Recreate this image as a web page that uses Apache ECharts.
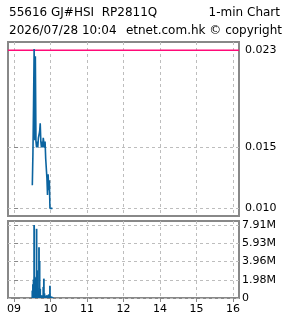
<!DOCTYPE html>
<html><head><meta charset="utf-8">
<script src="https://cdn.jsdelivr.net/npm/echarts@6/dist/echarts.min.js"></script>
<style>html,body{margin:0;padding:0;background:#fff}#c{width:285px;height:318px}</style>
</head><body><div id="c"></div>
<script>
// ---- data ----
var times = ['09:30','09:31','09:32','09:33','09:34','09:35','09:36','09:37','09:38','09:39',
             '09:40','09:41','09:42','09:43','09:44','09:45','09:46','09:47','09:48','09:49',
             '09:50','09:51','09:52','09:53','09:54','09:55','09:56','09:57','09:58','09:59',
             '10:00','10:01','10:02','10:03','10:04'];
var prices = [0.0119,0.0145,0.0185,0.0231,0.0156,0.0225,0.0155,0.0150,0.0155,0.0150,
              0.0158,0.0158,0.0163,0.0170,0.0155,0.0150,0.0155,0.0150,0.0158,0.0158,
              0.0150,0.0155,0.0141,0.0141,0.0125,0.0111,0.0128,0.0115,0.0123,0.0100,
              0.0100,0.0100,0.0100,0.0100,0.0100];
var volumes = [0.8e6,1.5e6,2.0e6,7.91e6,2.3e6,2.2e6,2.0e6,7.5e6,3.0e6,1.1e6,
               0.8e6,5.5e6,4.0e6,1.0e6,0.3e6,0.2e6,0.3e6,0.2e6,1.2e6,2.1e6,
               0.5e6,0.2e6,0.2e6,0.3e6,0.1e6,0.3e6,0.2e6,0.4e6,0.3e6,1.33e6,
               0.2e6,0.1e6,0.15e6,0.05e6,0.05e6];
var hourTicks = ['09:00','10:00','11:00','12:00','14:00','15:00','16:00'];
var priceTicks = [0.010, 0.015, 0.023];
var refPrice = 0.023;
var sessionStart = '08:50', sessionEnd = '16:10';
var titleLeft = '55616 GJ#HSI  RP2811Q';
var titleRight = '1-min Chart';
var subLeft = '2026/07/28 10:04';
var subRight = 'etnet.com.hk \u00a9 copyright';

// trading-minute coordinate (minutes since 09:00, lunch 12:00-13:00 removed)
function toX(t){
  var p = t.split(':'); var m = (+p[0])*60 + (+p[1]) - 540;
  if (+p[0] >= 13) m -= 60;
  return m;
}
var xMin = toX(sessionStart), xMax = toX(sessionEnd);
var xTickVals = hourTicks.map(toX);
var priceData = times.map(function(t,i){return [toX(t), prices[i]];});
var volData = times.map(function(t,i){return [toX(t), volumes[i]];});
var refData = [[xMin, refPrice],[xMax, refPrice]];
var vMax = Math.max.apply(null, volumes);
var volTicks = [0, vMax/4, vMax/2, vMax*3/4, vMax];

var font = 'DejaVu Sans';
var grid = '#bdbdbd';
var chart = echarts.init(document.getElementById('c'), null, {renderer:'canvas'});
var xCommon = function(idx, showLabel){
  return {
    type:'value', gridIndex: idx, min:xMin, max:xMax,
    axisLine:{show:false},
    axisTick:{show:showLabel, customValues:xTickVals, length:4, lineStyle:{color:'#888'}},
    axisLabel:{show:showLabel, customValues:xTickVals, color:'#000', fontFamily:font, fontSize:11, margin:6,
      formatter:function(v){ var i = xTickVals.indexOf(v); return i>=0 ? hourTicks[i].slice(0,2) : ''; }},
    splitLine:{show:true, lineStyle:{color:grid, type:[3,3], width:1}}
  };
};
chart.setOption({
  animation:false,
  backgroundColor:'#fff',
  graphic:[
    {type:'text', left:9, top:7, style:{text:titleLeft, font:'12px "DejaVu Sans"', fill:'#000'}},
    {type:'text', right:5, top:7, style:{text:titleRight, font:'12px "DejaVu Sans"', fill:'#000'}},
    {type:'text', left:9, top:25, style:{text:subLeft, font:'12px "DejaVu Sans"', fill:'#000'}},
    {type:'text', right:3, top:25, style:{text:subRight, font:'12px "DejaVu Sans"', fill:'#000'}}
  ],
  grid:[
    {left:8, top:42, width:231, height:174, show:true, borderColor:'#888', borderWidth:2, backgroundColor:'#fff'},
    {left:8, top:221, width:231, height:77, show:true, borderColor:'#888', borderWidth:2, backgroundColor:'#fff'}
  ],
  xAxis:[ xCommon(0,false), xCommon(1,true) ],
  yAxis:[
    {type:'value', gridIndex:0, position:'right', min:0.00937, max:0.02368,
     axisLine:{show:false},
     axisTick:{show:true, customValues:priceTicks, length:4, lineStyle:{color:'#888'}},
     axisLabel:{customValues:priceTicks, color:'#000', fontFamily:font, fontSize:11, margin:6,
       formatter:function(v){return v.toFixed(3);}},
     splitLine:{show:true, lineStyle:{color:grid, type:[3,3], width:1}}},
    {type:'value', gridIndex:1, position:'right', min:0, max:vMax*1.055,
     axisLine:{show:false},
     axisTick:{show:true, customValues:volTicks, length:4, lineStyle:{color:'#888'}},
     axisLabel:{customValues:volTicks, color:'#000', fontFamily:font, fontSize:11, margin:3,
       formatter:function(v){return v===0?'0':(v/1e6).toFixed(2)+'M';}},
     splitLine:{show:true, lineStyle:{color:grid, type:[3,3], width:1}}}
  ],
  series:[
    {type:'line', xAxisIndex:0, yAxisIndex:0, data:refData, showSymbol:false, silent:true,
     lineStyle:{color:'#ff0a78', width:1.5}},
    {type:'line', xAxisIndex:0, yAxisIndex:0, data:priceData, showSymbol:false,
     lineStyle:{color:'#0b64a0', width:1.6}},
    {type:'bar', xAxisIndex:1, yAxisIndex:1, data:volData, barWidth:1.8,
     itemStyle:{color:'#0b64a0'}}
  ]
});
</script></body></html>
